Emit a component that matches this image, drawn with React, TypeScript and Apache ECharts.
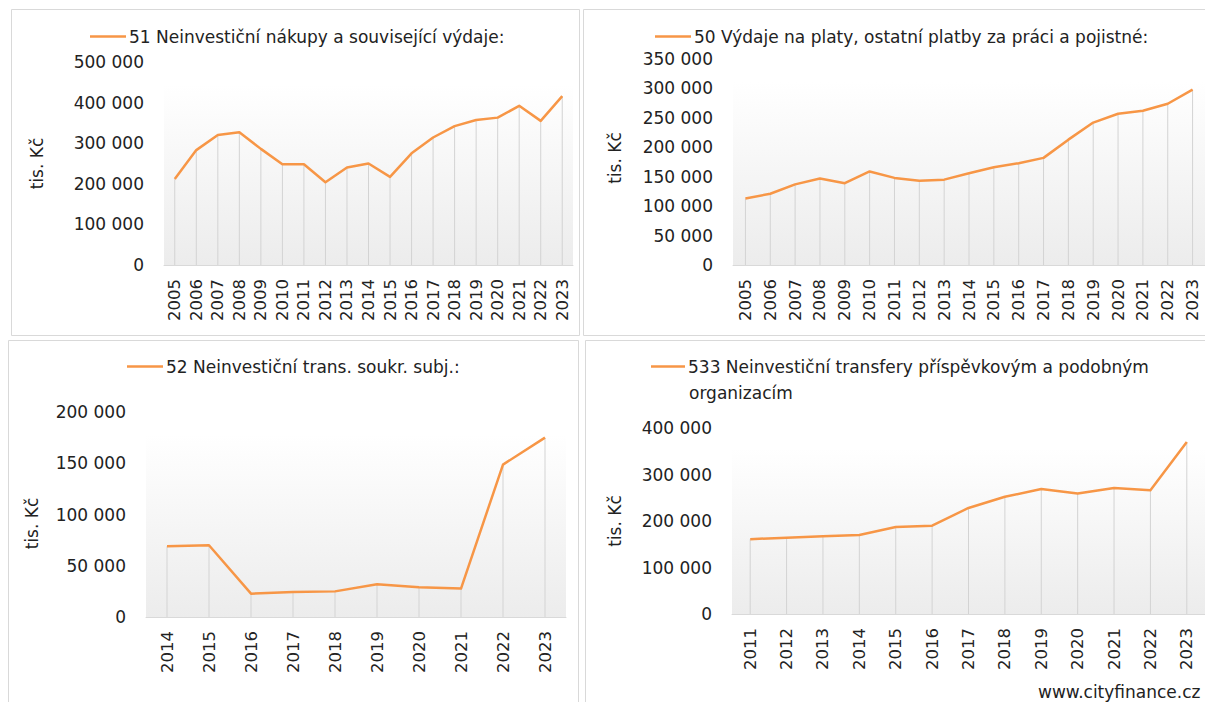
import React, { useEffect, useRef } from "react";
import * as echarts from "echarts";

// ---------- data ----------
const years51 = ["2005","2006","2007","2008","2009","2010","2011","2012","2013","2014","2015","2016","2017","2018","2019","2020","2021","2022","2023"];
const values51 = [212000, 283000, 320000, 327000, 286000, 248000, 248000, 204000, 240000, 250000, 217000, 275000, 314000, 342000, 357000, 363000, 392000, 355000, 416000];

const years50 = ["2005","2006","2007","2008","2009","2010","2011","2012","2013","2014","2015","2016","2017","2018","2019","2020","2021","2022","2023"];
const values50 = [113000, 121000, 137000, 147000, 139000, 159000, 148000, 143000, 145000, 156000, 166000, 173000, 182000, 213000, 242000, 257000, 262000, 274000, 298000];

const years52 = ["2014","2015","2016","2017","2018","2019","2020","2021","2022","2023"];
const values52 = [69000, 70000, 22800, 24400, 25000, 32000, 29000, 27700, 148700, 175000];

const years533 = ["2011","2012","2013","2014","2015","2016","2017","2018","2019","2020","2021","2022","2023"];
const values533 = [161000, 164000, 167000, 170000, 187000, 190000, 228000, 252000, 269000, 259000, 271000, 266000, 370000];

const name51 = "51 Neinvestiční nákupy a související výdaje:";
const name50 = "50 Výdaje na platy, ostatní platby za práci a pojistné:";
const name52 = "52 Neinvestiční trans. soukr. subj.:";
const name533 = "533 Neinvestiční transfery příspěvkovým a podobným organizacím";
const name533Line1 = "533 Neinvestiční transfery příspěvkovým a podobným";
const name533Line2 = "organizacím";

const yAxisName = "tis. Kč";
const yMax = [500000, 350000, 200000, 400000];
const yInterval = [100000, 50000, 50000, 100000];
const watermark = "www.cityfinance.cz";

// ---------- style ----------
const FONT = "DejaVu Sans";
const TEXT = "#222222";
const ORANGE = "#F79646";

const fmt = (v: number) => String(v).replace(/\B(?=(\d{3})+(?!\d))/g, " ");

const panels = [
  { years: years51, values: values51, name: name51, grid: { left: 164, top: 62, width: 409, height: 203 }, nameGap: 119, namePad: [0, 0, 0, 0], legend: { left: 90, top: 28, itemWidth: 36 } },
  { years: years50, values: values50, name: name50, grid: { left: 733, top: 59, width: 474, height: 206 }, nameGap: 110, namePad: [0, 0, 0, 8], legend: { left: 655, top: 28, itemWidth: 36 } },
  { years: years52, values: values52, name: name52, grid: { left: 146, top: 412, width: 420, height: 205 }, nameGap: 106, namePad: [0, 18, 0, 0], legend: { left: 127, top: 358, itemWidth: 36 } },
  { years: years533, values: values533, name: name533, grid: { left: 732, top: 428, width: 479, height: 186 }, nameGap: 109, namePad: [0, 0, 0, 0], legend: { left: 651, top: 358, itemWidth: 34 } },
];

export default function App() {
  const ref = useRef<HTMLDivElement>(null);

  useEffect(() => {
    if (!ref.current) return;
    const chart = echarts.init(ref.current, undefined, { renderer: "svg" });

    const grid = panels.map((p) => ({
      ...p.grid,
      show: true,
      borderWidth: 0,
      backgroundColor: new echarts.graphic.LinearGradient(0, 0, 0, 1, [
        { offset: 0, color: "#ffffff" },
        { offset: 0.11, color: "#ffffff" },
        { offset: 1, color: "#ececec" },
      ]),
    }));

    const xAxis = panels.map((p, i) => ({
      type: "category",
      gridIndex: i,
      data: p.years,
      boundaryGap: true,
      axisTick: { show: false },
      axisLine: { show: true, lineStyle: { color: "#d9d9d9", width: 1 } },
      axisLabel: { rotate: 90, margin: 14, color: TEXT, fontFamily: FONT, fontSize: 16.5, interval: 0 },
      splitLine: { show: false },
    }));

    const yAxis = panels.map((p, i) => ({
      type: "value",
      gridIndex: i,
      min: 0,
      max: yMax[i],
      interval: yInterval[i],
      axisLine: { show: false },
      axisTick: { show: false },
      splitLine: { show: false },
      axisLabel: { margin: 20, color: TEXT, fontFamily: FONT, fontSize: 17, formatter: (v: number) => fmt(v) },
      name: yAxisName,
      nameLocation: "middle",
      nameRotate: 90,
      nameGap: p.nameGap,
      nameTextStyle: { color: TEXT, fontFamily: FONT, fontSize: 17, padding: p.namePad },
    }));

    const series: any[] = [];
    panels.forEach((p, i) => {
      series.push({
        type: "bar",
        name: "drop-" + i,
        xAxisIndex: i,
        yAxisIndex: i,
        data: p.values,
        barWidth: 1,
        silent: true,
        itemStyle: { color: "#d3d3d3" },
      });
      series.push({
        type: "line",
        name: p.name,
        xAxisIndex: i,
        yAxisIndex: i,
        data: p.values,
        symbol: "none",
        lineStyle: { color: ORANGE, width: 2.5, join: "round" },
        itemStyle: { color: ORANGE },
        z: 3,
      });
    });

    const legend = panels.map((p, i) => ({
      data: [p.name],
      left: p.legend.left,
      top: p.legend.top,
      padding: 0,
      icon: "rect",
      itemWidth: p.legend.itemWidth,
      itemHeight: 2.5,
      itemGap: 0,
      selectedMode: false,
      itemStyle: { color: ORANGE, borderWidth: 0 },
      textStyle: { color: TEXT, fontFamily: FONT, fontSize: 17, padding: [0, 0, 0, -2] },
      formatter: i === 3 ? () => name533Line1 : undefined,
    }));

    const border = (x: number, y: number, w: number, h: number) => ({
      type: "rect",
      shape: { x: x + 0.5, y: y + 0.5, width: w, height: h },
      style: { fill: "none", stroke: "#d9d9d9", lineWidth: 1 },
      silent: true,
      z: -10,
    });

    chart.setOption({
      animation: false,
      backgroundColor: "#ffffff",
      grid,
      xAxis,
      yAxis,
      series,
      legend,
      graphic: [
        border(11, 9, 568, 326),
        border(583, 9, 640, 326),
        border(8, 340, 570, 380),
        border(585, 340, 640, 380),
        {
          type: "text",
          left: 689,
          top: 384,
          style: { text: name533Line2, fill: TEXT, font: `17px "${FONT}"` },
        },
        {
          type: "text",
          left: 1038,
          top: 683,
          style: { text: watermark, fill: TEXT, font: `17px "${FONT}"` },
        },
      ],
    });

    return () => chart.dispose();
  }, []);

  return (
    <div
      ref={ref}
      style={{ position: "absolute", left: 0, top: 0, width: 1205, height: 702 }}
    />
  );
}
